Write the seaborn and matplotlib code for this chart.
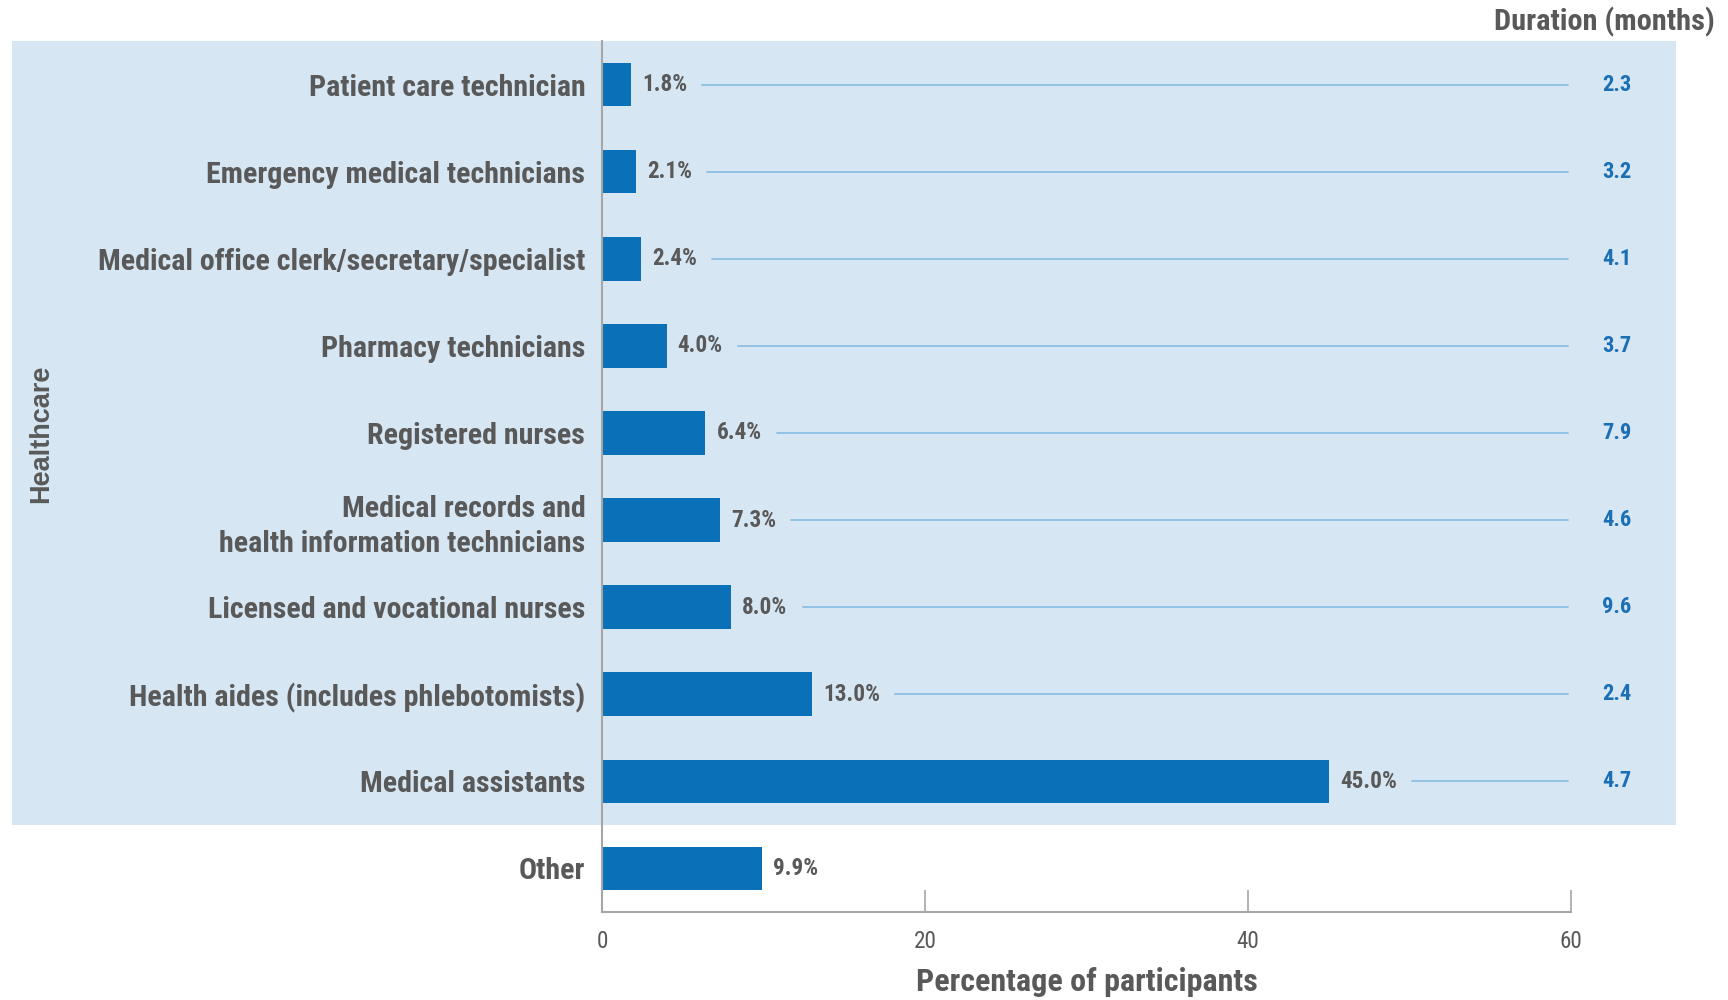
import os
import matplotlib
matplotlib.use('Agg')
import matplotlib.pyplot as plt
import seaborn as sns
import pandas as pd
from matplotlib import font_manager as fm
from matplotlib.font_manager import FontProperties
from matplotlib.transforms import blended_transform_factory
from matplotlib.patches import Rectangle

categories = [
    "Patient care technician",
    "Emergency medical technicians",
    "Medical office clerk/secretary/specialist",
    "Pharmacy technicians",
    "Registered nurses",
    "Medical records and\nhealth information technicians",
    "Licensed and vocational nurses",
    "Health aides (includes phlebotomists)",
    "Medical assistants",
    "Other",
]
percentages = [1.8, 2.1, 2.4, 4.0, 6.4, 7.3, 8.0, 13.0, 45.0, 9.9]
durations = [2.3, 3.2, 4.1, 3.7, 7.9, 4.6, 9.6, 2.4, 4.7, None]
x_ticks = [0, 20, 40, 60]
group_label = "Healthcare"
x_label = "Percentage of participants"
duration_header = "Duration (months)"

BAR = "#0a71b8"
BG = "#d6e6f3"
GRAY = "#595959"
AXGRAY = "#a6a6a6"
LEADER = "#8dbfe3"
DUR = "#1a6fb5"

sns.set_theme(style="white")
plt.rcParams['font.family'] = ['Liberation Sans', 'DejaVu Sans']


def pick_condensed(bold=True):
    bad = ('semi', 'extra', 'ultra', 'italic', 'oblique', 'light', 'medium',
           'black', 'thin', 'mono', 'serif', 'heavy')
    fams = ['liberationsans', 'roboto', 'arial', 'notosans-', 'notosans', 'dejavusans',
            'opensans', 'lato', '']
    cands = []
    for f in fm.fontManager.ttflist:
        n = os.path.basename(f.fname).lower()
        if not ('narrow' in n or 'condensed' in n):
            continue
        if any(b in n for b in bad):
            continue
        if bold != ('bold' in n):
            continue
        for rank, fam in enumerate(fams):
            if n.startswith(fam):
                cands.append((rank, len(n), f.fname))
                break
    if cands:
        cands.sort()
        return FontProperties(fname=cands[0][2])
    return FontProperties(family='Liberation Sans', weight='bold' if bold else 'normal')


def plain(bold=True):
    return FontProperties(family='Liberation Sans', weight='bold' if bold else 'normal')


fig = plt.figure(figsize=(17.28, 10), dpi=100)
renderer = fig.canvas.get_renderer()


def fit(fp, text, target_px):
    p = fp.copy()
    p.set_size(10)
    w, h, d = renderer.get_text_width_height_descent(text, p, ismath=False)
    p.set_size(10 * target_px / w)
    return p


fp_cat = fit(pick_condensed(True), "Patient care technician", 277)
fp_val = fit(pick_condensed(True), "45.0%", 57)
fp_dur = fit(pick_condensed(True), "2.3", 29.5)
fp_tick = fit(pick_condensed(False), "60", 22.5)
fp_xlab = fit(pick_condensed(True), x_label, 340)
fp_head = fit(pick_condensed(True), duration_header, 220)
fp_group = fit(plain(True), group_label, 138)

ax = fig.add_axes([602/1728, 88/1000, (1571-602)/1728, (912-41)/1000])
ax.patch.set_alpha(0)

df = pd.DataFrame({"cat": categories, "pct": percentages})
sns.barplot(data=df, y="cat", x="pct", orient="h", color=BAR, saturation=1,
            width=0.5, linewidth=0, ax=ax, zorder=3)

ax.set_xlim(0, 60)
ax.set_ylim(9.5, -0.5)
ax.set_xticks(x_ticks)
ax.set_xticklabels([str(t) for t in x_ticks], fontproperties=fp_tick, color=GRAY)
ax.tick_params(axis='x', bottom=True, direction='in', length=16, width=1.2,
               color=AXGRAY, pad=13)
ax.tick_params(axis='y', left=False, length=0, pad=12)
ax.set_yticks(range(len(categories)))
ax.set_yticklabels(categories, fontproperties=fp_cat, color=GRAY, linespacing=1.3)
ax.set_ylabel("")
ax.set_xlabel(x_label, fontproperties=fp_xlab, color=GRAY, labelpad=10)
for s in ['top', 'right']:
    ax.spines[s].set_visible(False)
for s in ['left', 'bottom']:
    ax.spines[s].set_color(AXGRAY)
    ax.spines[s].set_linewidth(1.5)
    ax.spines[s].set_zorder(4)

# background band for Healthcare group
trans = blended_transform_factory(fig.transFigure, ax.transData)
rect = Rectangle((12/1728, -0.5), (1676-12)/1728, 9.0, transform=trans,
                 facecolor=BG, edgecolor='none', zorder=-1)
fig.add_artist(rect)

# value labels
texts = []
for i, v in enumerate(percentages):
    t = ax.annotate(f"{v:.1f}%", xy=(v, i), xytext=(8, 0), textcoords='offset points',
                    ha='left', va='center', fontproperties=fp_val, color=GRAY,
                    zorder=5)
    texts.append(t)

fig.canvas.draw()
renderer = fig.canvas.get_renderer()
inv = ax.transData.inverted()
for i, (t, d) in enumerate(zip(texts, durations)):
    if d is None:
        continue
    bb = t.get_window_extent(renderer)
    x0 = inv.transform((bb.x1 + 15, 0))[0]
    ax.plot([x0, 59.8], [i, i], color=LEADER, lw=1.3, zorder=2, clip_on=False)
    ax.text(62.85, i, f"{d:.1f}", ha='center', va='center', fontproperties=fp_dur,
            color=DUR, clip_on=False)

fig.text(1715/1728, 1 - 22/1000, duration_header, ha='right', va='center',
         fontproperties=fp_head, color=GRAY)
fig.text(41/1728, 1 - 434/1000, group_label, ha='center', va='center', rotation=90,
         fontproperties=fp_group, color=GRAY)

fig.savefig("out.png", dpi=100)
